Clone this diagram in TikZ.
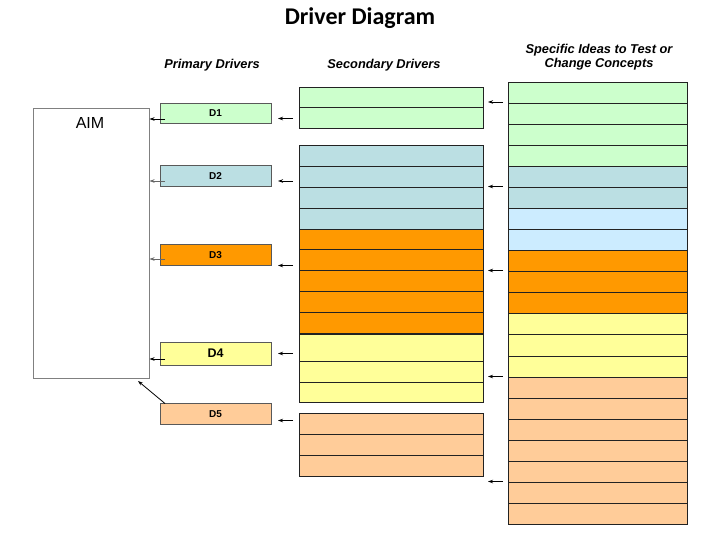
\documentclass[tikz,border=0pt]{standalone}
\usepackage{fontspec}
\setmainfont{Carlito}
\newfontfamily\arialfont{Liberation Sans}
\usetikzlibrary{arrows.meta,positioning}

\definecolor{grn}{HTML}{CCFFCC}
\definecolor{blu}{HTML}{BBDFE3}
\definecolor{lblu}{HTML}{CCECFF}
\definecolor{org}{HTML}{FF9900}
\definecolor{yel}{HTML}{FFFF99}
\definecolor{pch}{HTML}{FFCC99}
\definecolor{edge}{HTML}{222222}

\begin{document}
\begin{tikzpicture}[x=1pt,y=-1pt,>={Stealth[length=5pt,width=3.5pt]},
    box/.style={draw=edge,line width=0.8pt,anchor=north west,inner sep=0pt,outer sep=0pt},
    primary/.style={box,draw=black!65,minimum width=111pt,font=\arialfont\bfseries\fontsize{10}{11}\selectfont},
    secondary/.style={box,minimum width=184pt},
    idea/.style={box,minimum width=179pt,minimum height=21.07pt},
    head/.style={font=\arialfont\bfseries\itshape\fontsize{12.8}{14}\selectfont,align=center},
    arr/.style={->,line width=0.8pt}]
  \useasboundingbox (0,0) rectangle (720,540);

  % titles
  \node (title) at (360,18) {\bfseries\fontsize{24}{28}\selectfont Driver Diagram};
  \node[head] (hprim) at (212,65) {Primary Drivers};
  \node[head] (hsec) at (384,65) {Secondary Drivers};
  \node[head] (hidea) at (599,57) {Specific Ideas to Test or\\Change Concepts};

  % aim
  \node[box,draw=black!50,minimum width=116pt,minimum height=270pt] (aim) at (33,108) {};
  \node[font=\arialfont\fontsize{16}{18}\selectfont] (aimtext) at (90,123) {AIM};

  % primary drivers
  \node[primary,fill=grn,minimum height=20pt] (d1) at (160,103) {D1};
  \node[primary,fill=blu,minimum height=20.5pt] (d2) at (160,165.5) {D2};
  \node[primary,fill=org,minimum height=20.5pt] (d3) at (160,244.5) {D3};
  \node[primary,fill=yel,minimum height=23pt,font=\arialfont\bfseries\fontsize{12.5}{13}\selectfont] (d4) at (160,342) {D4};
  \node[primary,fill=pch,minimum height=20.5pt] (d5) at (160,403.5) {D5};

  % secondary drivers
  \foreach \t/\h/\c [count=\i] in {87/20.5/grn,107.5/20.5/grn,
      145/21/blu,166/21/blu,187/21/blu,208/21/blu,
      229/20.8/org,249.8/20.8/org,270.6/20.8/org,291.4/20.8/org,312.2/20.8/org,
      334/27/yel,361/21/yel,382/20.5/yel,
      413/21/pch,434/21/pch,455/21/pch}
    \node[secondary,fill=\c,minimum height=\h pt] (s\i) at (299,\t) {};

  % change ideas
  \foreach \c [count=\i from 0] in {grn,grn,grn,grn,blu,blu,lblu,lblu,org,org,org,
      yel,yel,yel,pch,pch,pch,pch,pch,pch,pch}
    \node[idea,fill=\c] (i\i) at (508,{82+\i*21.07}) {};

  % primary -> aim
  \coordinate (a1) at (149.5,119);
  \coordinate (a2) at (149.5,181);
  \coordinate (a3) at (149.5,259);
  \coordinate (a4) at (149.5,359);
  \coordinate (a5) at (138,381);
  \draw[arr] ([xshift=5pt]d1.west |- a1) -- (a1);
  \draw[arr,black!60] ([xshift=5pt]d2.west |- a2) -- (a2);
  \draw[arr,black!60] ([xshift=5pt]d3.west |- a3) -- (a3);
  \draw[arr] ([xshift=5pt]d4.west |- a4) -- (a4);
  \draw[arr] ([xshift=5pt]d5.north west) -- (a5);

  % secondary -> primary
  \foreach \n/\y in {1/118.5,2/181,3/265.5,4/353.5,5/420.5} {
    \coordinate (p\n) at (278,\y);
    \coordinate (pt\n) at (293,\y);
    \draw[arr] (pt\n) -- (p\n);
  }

  % ideas -> secondary
  \foreach \n/\y in {1/102,2/186.5,3/270.5,4/376.5,5/481.5} {
    \coordinate (q\n) at (488,\y);
    \coordinate (qt\n) at (503,\y);
    \draw[arr] (qt\n) -- (q\n);
  }
\end{tikzpicture}
\end{document}
